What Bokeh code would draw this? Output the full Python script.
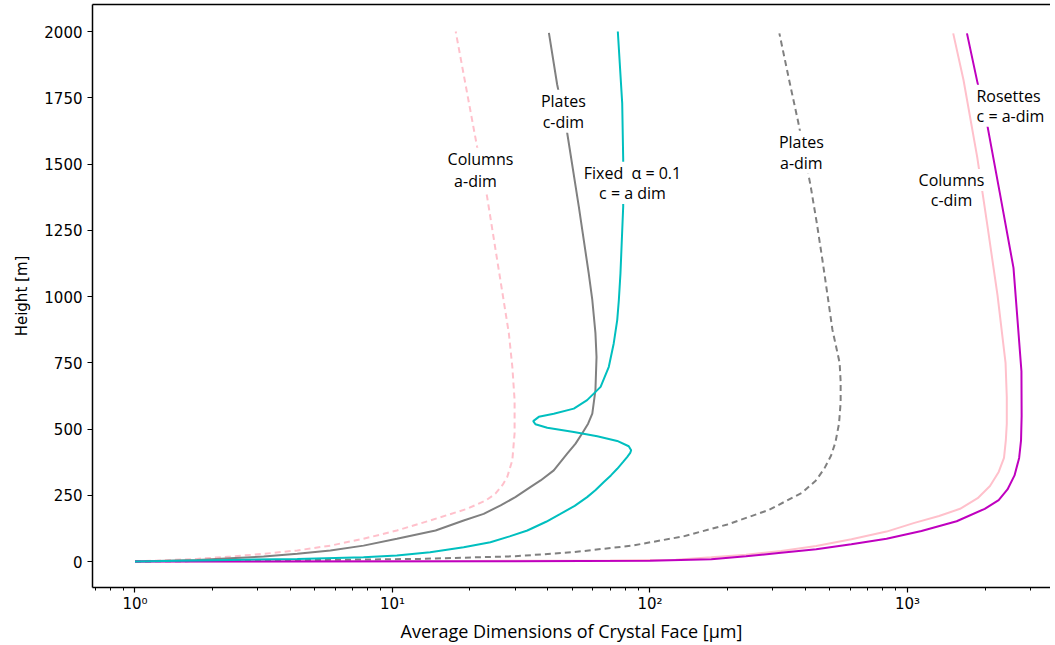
from bokeh.plotting import figure
from bokeh.models import Range1d, FixedTicker, LinearAxis, Label
from bokeh.embed import file_html
from bokeh.resources import INLINE

# ---- data (height [m] vs average dimension [um]) ----
col_a_h = [0, 10, 19, 29, 42, 60, 86, 117, 155, 199, 230, 256, 290, 319, 382, 484, 609, 735, 862, 987, 1377, 1566, 2000]
col_a_x = [1.0, 1.74, 2.35, 3.16, 4.27, 5.74, 7.72, 10.4, 14.0, 19.5, 23.0, 25.1, 26.8, 27.9, 29.2, 29.8, 29.8, 29.2, 28.3, 27.0, 23.3, 21.3, 17.6]

pla_c_h = [0, 6, 12.5, 19, 29, 42, 60, 86, 117, 155, 180, 212, 243, 281, 306, 344, 407, 445, 483, 520, 558, 647, 772, 862, 987, 1088, 1340, 1617, 1800, 1995]
pla_c_x = [1.0, 1.74, 2.35, 3.16, 4.27, 5.74, 7.72, 10.4, 14.7, 18.9, 22.6, 26.3, 30.0, 34.3, 37.6, 42.3, 47.7, 51.4, 54.5, 57.5, 59.7, 61.4, 62.0, 61.4, 59.7, 57.8, 52.9, 47.7, 43.6, 40.5]

fix_h = [0, 3, 6, 10, 16, 23, 35, 54, 73, 95, 117, 150, 180, 210, 243, 270, 300, 325, 350, 375, 394, 410, 420, 435, 455, 473, 489, 505, 518, 530, 546, 558, 577, 609, 659, 735, 823, 911, 987, 1088, 1340, 1516, 1730, 2000]
fix_x = [1.0, 1.5, 2.35, 4.27, 7.72, 10.4, 14.0, 18.9, 24.0, 28.5, 33.4, 39.5, 44.9, 51.0, 57.0, 61.5, 66.2, 70.5, 74.6, 78.5, 81.5, 83.8, 84.5, 82.7, 74.6, 62.4, 50.6, 39.9, 35.9, 35.2, 37.0, 42.3, 50.6, 57.0, 64.3, 69.2, 72.3, 74.6, 75.7, 76.8, 78.7, 78.7, 78.0, 75.0]

pla_a_h = [0, 5, 10, 20, 35, 60, 95, 140, 195, 260, 305, 350, 400, 450, 520, 600, 680, 750, 875, 1000, 1134, 1280, 1420, 1655, 1800, 1993]
pla_a_x = [1.0, 4.4, 12.8, 30.0, 50.0, 85.0, 135.0, 200.0, 290.0, 390.0, 440.0, 475.0, 505.0, 525.0, 542.0, 550.0, 550.0, 545.0, 511.0, 490.0, 468.0, 444.0, 420.0, 377.0, 350.0, 318.0]

col_c_h = [0, 2, 4, 6.4, 16, 26, 40, 59, 84, 113, 146, 172, 199, 239, 285, 338, 391, 457, 520, 620, 750, 1004, 1264, 1525, 1817, 1993]
col_c_x = [1.0, 20.0, 70.0, 126.0, 173.0, 236.0, 323.0, 442.0, 606.0, 829.0, 1064.0, 1326.0, 1600.0, 1873.0, 2091.0, 2260.0, 2370.0, 2409.0, 2430.0, 2430.0, 2403.0, 2237.0, 2046.0, 1866.0, 1650.0, 1505.0]

ros_h = [0, 1, 3, 9, 20, 33, 46, 65, 86, 115, 152, 199, 232, 272, 325, 391, 457, 550, 718, 900, 1108, 1394, 1675, 1811, 1993]
ros_x = [1.0, 30.0, 100.0, 173.0, 236.0, 323.0, 442.0, 605.0, 829.0, 1133.0, 1552.0, 1995.0, 2260.0, 2445.0, 2604.0, 2714.0, 2760.0, 2775.0, 2770.0, 2680.0, 2580.0, 2280.0, 2016.0, 1866.0, 1702.0]

y_ticks = [0, 250, 500, 750, 1000, 1250, 1500, 1750, 2000]
x_major = [1, 10, 100, 1000]
x_major_labels = ["10⁰", "10¹", "10²", "10³"]
x_minor = [m * d for d in [0.1, 1, 10, 100, 1000] for m in range(2, 10)]

labels = [
    ("Columns", 21.96, 1520), ("a-dim", 21.0, 1437),
    ("Plates", 46.1, 1739), ("c-dim", 46.1, 1660),
    ("Fixed\u00a0\u00a0α = 0.1", 85.5, 1467), ("c = a dim", 85.5, 1391),
    ("Plates", 387.0, 1584), ("a-dim", 387.0, 1505),
    ("Rosettes", 2466.0, 1758), ("c = a-dim", 2512.0, 1682),
    ("Columns", 1482.0, 1440), ("c-dim", 1482.0, 1365),
]

PINK = "#ffc0cb"
GREY = "#808080"
CYAN = "#00bfbf"
MAGENTA = "#bf00bf"

p = figure(width=1050, height=645, x_axis_type="log",
           x_range=Range1d(0.684, 3592), y_range=Range1d(-98, 2102),
           output_backend="svg", toolbar_location=None,
           min_border_left=92, min_border_bottom=58, min_border_top=4, min_border_right=0)
p.outline_line_color = None
p.grid.visible = False
p.background_fill_color = "white"

p.line(col_a_x, col_a_h, line_color=PINK, line_width=2, line_dash="6 4")
p.line(col_c_x, col_c_h, line_color=PINK, line_width=2)
p.line(pla_a_x, pla_a_h, line_color=GREY, line_width=2, line_dash="6 4")
p.line(pla_c_x, pla_c_h, line_color=GREY, line_width=2)
p.line(ros_x, ros_h, line_color=MAGENTA, line_width=2)
p.line(fix_x, fix_h, line_color=CYAN, line_width=2)

for txt, lx, ly in labels:
    p.add_layout(Label(x=lx, y=ly, text=txt, text_align="center", text_baseline="middle",
                       text_font="Open Sans", text_font_size="16px", text_color="black",
                       background_fill_color="white", background_fill_alpha=1.0))

xa = p.xaxis[0]
xa.ticker = FixedTicker(ticks=x_major, minor_ticks=x_minor)
xa.major_label_overrides = {t: l for t, l in zip(x_major, x_major_labels)}
xa.axis_label = "Average Dimensions of Crystal Face [μm]"
ya = p.yaxis[0]
ya.ticker = FixedTicker(ticks=y_ticks)
ya.axis_label = "Height [m]"
for ax in (xa, ya):
    ax.axis_line_width = 1.5
    ax.axis_line_color = "black"
    ax.major_tick_in = 0
    ax.major_tick_out = 5
    ax.minor_tick_in = 0
    ax.minor_tick_out = 3
    ax.major_tick_line_width = 1.2
    ax.minor_tick_line_width = 1
    ax.major_label_text_font = "DejaVu Sans"
    ax.major_label_text_font_size = "15px"
    ax.major_label_text_color = "black"
    ax.axis_label_text_font = "DejaVu Sans"
    ax.axis_label_text_font_size = "15px"
    ax.axis_label_text_font_style = "normal"
    ax.axis_label_text_color = "black"
xa.axis_label_text_font = "Open Sans"
xa.axis_label_text_font_size = "18px"
xa.major_label_standoff = 2
xa.axis_label_standoff = 3
ya.minor_tick_line_color = None
ya.axis_label_standoff = 10

top = LinearAxis(major_tick_line_color=None, minor_tick_line_color=None,
                 major_label_text_font_size="0px", axis_line_color="black",
                 axis_line_width=1.5, ticker=FixedTicker(ticks=[]))
p.add_layout(top, "above")

open("out.html", "w").write(file_html(p, INLINE))
